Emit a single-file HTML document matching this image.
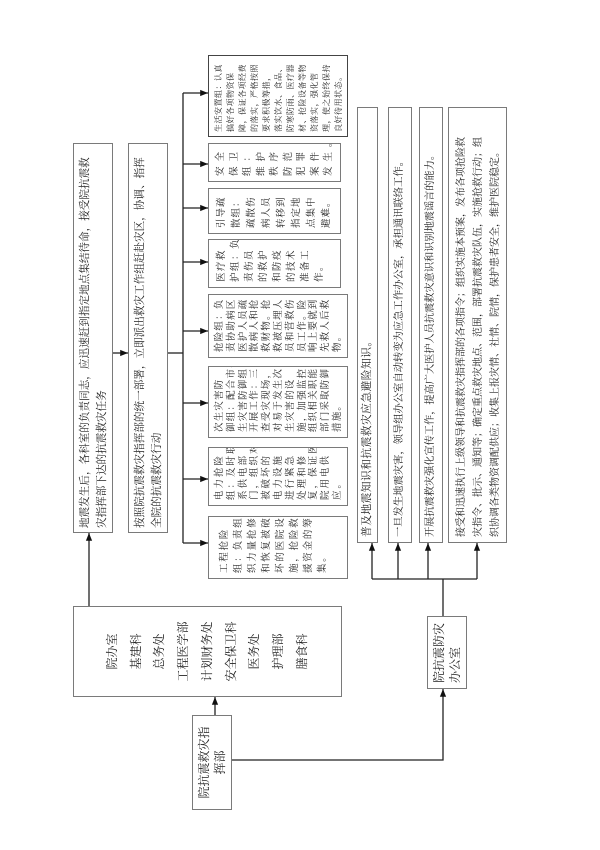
<!DOCTYPE html>
<html><head><meta charset="utf-8">
<style>
html,body{margin:0;padding:0;background:#fff;}
body{width:600px;height:850px;position:relative;overflow:hidden;}
#L{position:absolute;left:0;top:0;width:850px;height:600px;transform-origin:0 0;transform:translate(0,850px) rotate(-90deg);}
.b{position:absolute;border:1px solid #7a7a7a;box-sizing:border-box;background:#fff;font-family:"Liberation Serif","Noto Serif CJK SC",serif;color:#222;white-space:nowrap;overflow:hidden;}
.s{padding:6px 0 0 5px;font-size:9.5px;}
svg{position:absolute;left:0;top:0;}
</style></head><body>
<div id="L">
<svg width="850" height="600">
<defs><marker id="a" viewBox="0 0 10 10" refX="10" refY="5" markerWidth="6" markerHeight="6" orient="auto"><path d="M0,1L10,5L0,9z" fill="#111"/></marker></defs>
<g stroke="#222" stroke-width="1.3" fill="none">
<line x1="135" y1="215" x2="153" y2="215" marker-end="url(#a)"/>
<line x1="244" y1="89" x2="317" y2="89" marker-end="url(#a)"/>
<line x1="497" y1="113" x2="497" y2="128" marker-end="url(#a)"/>
<line x1="497" y1="168" x2="497" y2="183"/>
<line x1="307" y1="183" x2="757" y2="183"/>
<line x1="757" y1="183" x2="757" y2="208" marker-end="url(#a)"/>
<line x1="686" y1="183" x2="686" y2="208" marker-end="url(#a)"/>
<line x1="642" y1="183" x2="642" y2="208" marker-end="url(#a)"/>
<line x1="588" y1="183" x2="588" y2="208" marker-end="url(#a)"/>
<line x1="519" y1="183" x2="519" y2="208" marker-end="url(#a)"/>
<line x1="447" y1="183" x2="447" y2="208" marker-end="url(#a)"/>
<line x1="371" y1="183" x2="371" y2="208" marker-end="url(#a)"/>
<line x1="307" y1="183" x2="307" y2="208" marker-end="url(#a)"/>
<polyline points="90,232 90,443 161,443" marker-end="url(#a)"/>
<line x1="234" y1="443" x2="271" y2="443"/>
<line x1="271" y1="372" x2="271" y2="477"/>
<line x1="271" y1="372" x2="307" y2="372" marker-end="url(#a)"/>
<line x1="271" y1="398" x2="307" y2="398" marker-end="url(#a)"/>
<line x1="271" y1="428" x2="307" y2="428" marker-end="url(#a)"/>
<line x1="271" y1="477" x2="307" y2="477" marker-end="url(#a)"/>
</g></svg>

<div class="b" style="left:40px;top:192px;width:95px;height:40px;font-size:12px;line-height:16px;text-align:center;padding-top:3px;">院抗震救灾指<br>挥部</div>

<div class="b" style="left:153px;top:73px;width:91px;height:269px;font-size:12px;line-height:23.7px;text-align:center;padding-top:27px;">院办室<br>基建科<br>总务处<br>工程医学部<br>计划财务处<br>安全保卫科<br>医务处<br>护理部<br>膳食科</div>

<div class="b" style="left:317px;top:73px;width:390px;height:40px;font-size:10.6px;line-height:17px;padding:3px 0 0 4px;">地震发生后，各科室的负责同志，应迅速赶到指定地点集结待命，接受院抗震救<br>灾指挥部下达的抗震救灾任务</div>

<div class="b" style="left:317px;top:128px;width:390px;height:40px;font-size:10.6px;line-height:17px;padding:3px 0 0 4px;">按照院抗震救灾指挥部的统一部署，立即派出救灾工作组赶赴灾区，协调、指挥<br>全院的抗震救灾行动</div>

<div class="b s" style="left:713px;top:208px;width:82px;height:140px;border:1.5px solid #444;font-size:8px;letter-spacing:0.5px;line-height:12px;padding:4px 0 0 4px;">生活安置组：认真<br>搞好各项物资保<br>障，保证各项经费<br>的落实，严格按照<br>要求积极筹措，<br>落实饮水、食品、<br>防寒防雨、医疗器<br>材、抢险设备等物<br>资落实，强化管<br>理，使之始终保持<br>良好待用状态。</div>

<div class="b s" style="left:668px;top:208px;width:39px;height:133px;font-size:9.5px;letter-spacing:5px;line-height:13.5px;padding-left:5px;">安全<br>保卫<br>组：<br>维护<br>秩序<br>防范<br>犯罪<br>案件<br>发生。</div>

<div class="b s" style="left:616px;top:208px;width:46px;height:133px;font-size:9.5px;letter-spacing:1px;line-height:15px;">引导疏<br>散组：<br>疏散伤<br>病人员<br>转移到<br>指定地<br>点集中<br>避难。</div>

<div class="b s" style="left:562px;top:208px;width:49px;height:133px;font-size:9.5px;letter-spacing:1.5px;line-height:14px;">医疗救<br>护组：负<br>责伤员<br>的救护<br>和防疫<br>的技术<br>准备工<br>作。</div>

<div class="b s" style="left:492px;top:208px;width:64px;height:140px;font-size:9.5px;letter-spacing:1.2px;line-height:11.8px;">抢险组：负<br>责协助病区<br>医护人员疏<br>散病人和抢<br>救财物。抢<br>救被压埋人<br>员和营救伤<br>员工作。险<br>响上要就到<br>先救人后救<br>物。</div>

<div class="b s" style="left:412px;top:208px;width:72px;height:140px;font-size:9.5px;letter-spacing:1.2px;line-height:11.8px;">次生灾害防<br>御组：配合市次<br>生灾害防御组<br>开展工作：三<br>查受灾现场，<br>对易于发生次<br>生灾害的设<br>施，加强监控，<br>组织相关职能<br>部门采取防御<br>措施。</div>

<div class="b s" style="left:344px;top:208px;width:59px;height:140px;font-size:9.5px;letter-spacing:2px;line-height:11.8px;">电力抢险<br>组：及时联<br>系供电部<br>门，组织对<br>被破坏的<br>电力设施<br>进行紧急<br>处理和修<br>复，保证医<br>院用电供<br>应。</div>

<div class="b s" style="left:271px;top:208px;width:63px;height:140px;font-size:9.5px;letter-spacing:1.8px;line-height:14px;padding-top:9px;">工程抢险<br>组：负责组<br>织力量抢修<br>和恢复被破<br>坏的医院设<br>施，抢险救<br>援资金的筹<br>集。</div>

<div class="b" style="left:307px;top:357px;width:436px;height:21px;font-size:10.8px;letter-spacing:0.4px;line-height:19px;padding-left:5px;">普及地震知识和抗震救灾应急避险知识。</div>
<div class="b" style="left:307px;top:388px;width:436px;height:24px;font-size:10.3px;line-height:22px;padding-left:5px;">一旦发生地震灾害，领导组办公室自动转变为应急工作办公室，承担通讯联络工作。</div>
<div class="b" style="left:307px;top:419px;width:436px;height:24px;font-size:10.2px;line-height:22px;padding-left:5px;">开展抗震救灾强化宣传工作，提高广大医护人员抗震救灾意识和识别地震谣言的能力。</div>
<div class="b" style="left:307px;top:448px;width:436px;height:59px;font-size:10px;line-height:17px;padding:4px 0 0 5px;">接受和迅速执行上级领导和抗震救灾指挥部的各项指令；组织实施本预案，发布各项抢险救<br>灾指令、批示、通知等；确定重点救灾地点、范围，部署抗震救灾队伍，实施抢救行动；组<br>织协调各类物资调配供应；收集上报灾情、社情、院情，保护患者安全，维护医院稳定。</div>

<div class="b" style="left:161px;top:427px;width:73px;height:40px;font-size:12px;line-height:16px;padding:3px 0 0 5px;">院抗震防灾<br>办公室</div>
</div>
</body></html>
